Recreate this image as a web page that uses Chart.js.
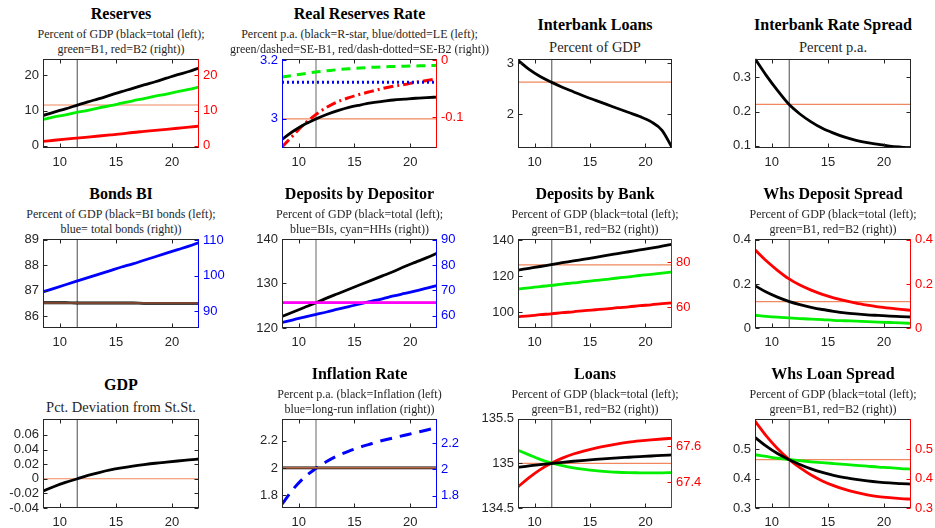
<!DOCTYPE html>
<html>
<head>
<meta charset="utf-8">
<script src="https://cdn.jsdelivr.net/npm/chart.js@4.4.0/dist/chart.umd.min.js"></script>
<style>
  body { margin: 0; background: #fff; width: 935px; height: 528px; overflow: hidden; position: relative; }
  .ttl { position: absolute; font: bold 16px "Liberation Serif", serif; color: #000; white-space: nowrap; transform: translate(-50%, -50%); }
  .sub { position: absolute; font: 12px "Liberation Serif", serif; color: #262626; white-space: nowrap; transform: translate(-50%, -50%); }
  .sub.big { font-size: 14.5px; }
  canvas { position: absolute; }
</style>
</head>
<body>
<script>
// ---- shared horizon ----
const xs = [8.5, 9.5, 10.5, 11.5, 12.5, 13.5, 14.5, 15.5, 16.5, 17.5, 18.5, 19.5, 20.5, 21.5, 22.4];
const xTicks = [10, 15, 20];
const xMin = 8.5, xMax = 22.4;
const shockX = 11.55;

// ---- Reserves ----
const reservesTotal = [8.6, 9.6, 10.5, 11.5, 12.5, 13.4, 14.4, 15.4, 16.3, 17.3, 18.2, 19.2, 20.2, 21.1, 22.1];
const reservesB1 = [7.5, 8.2, 8.8, 9.5, 10.1, 10.8, 11.4, 12.1, 12.8, 13.4, 14.1, 14.7, 15.4, 16.0, 16.7];
const reservesB2 = [1.3, 1.6, 1.9, 2.2, 2.5, 2.8, 3.1, 3.4, 3.8, 4.1, 4.4, 4.7, 5.0, 5.3, 5.6];
const reservesSS = 11.6;
const reservesTicksL = [0, 10, 20];
const reservesTicksR = [0, 10, 20];

// ---- Real reserves rate ----
const rrRstar = [2.930, 2.958, 2.981, 2.999, 3.015, 3.028, 3.039, 3.047, 3.054, 3.059, 3.064, 3.067, 3.070, 3.072, 3.074];
const rrLE = [3.124, 3.124, 3.124, 3.124, 3.124, 3.124, 3.124, 3.124, 3.124, 3.124, 3.124, 3.124, 3.124, 3.124, 3.124];
const rrB1 = [-0.030, -0.027, -0.024, -0.021, -0.019, -0.017, -0.0155, -0.014, -0.013, -0.012, -0.0115, -0.011, -0.0105, -0.010, -0.0095];
const rrB2 = [-0.152, -0.132, -0.112, -0.096, -0.083, -0.073, -0.066, -0.060, -0.055, -0.050, -0.046, -0.043, -0.039, -0.036, -0.033];
const rrSS = 3.0;
const rrTicksL = [3, 3.2];
const rrTicksR = [-0.1, 0];

// ---- Interbank loans ----
const ibLoans = [3.06, 2.88, 2.74, 2.63, 2.53, 2.44, 2.35, 2.27, 2.19, 2.11, 2.03, 1.95, 1.85, 1.68, 1.34];
const ibLoansSS = 2.63;
const ibLoansTicks = [2, 3];

// ---- Interbank rate spread ----
const ibSpread = [0.355, 0.306, 0.262, 0.222, 0.193, 0.170, 0.151, 0.137, 0.125, 0.116, 0.109, 0.104, 0.099, 0.096, 0.094];
const ibSpreadSS = 0.221;
const ibSpreadTicks = [0.1, 0.2, 0.3];

// ---- Bonds BI ----
const bondsBI = [86.52, 86.52, 86.52, 86.51, 86.51, 86.51, 86.51, 86.51, 86.51, 86.50, 86.50, 86.50, 86.50, 86.50, 86.50];
const bondsTotal = [95.4, 96.4, 97.4, 98.4, 99.4, 100.4, 101.4, 102.4, 103.3, 104.3, 105.3, 106.3, 107.3, 108.3, 109.3];
const bondsSS = 86.51;
const bondsTicksL = [86, 87, 88, 89];
const bondsTicksR = [90, 100, 110];

// ---- Deposits by depositor ----
const depTotal = [122.6, 123.6, 124.6, 125.6, 126.7, 127.7, 128.7, 129.7, 130.7, 131.7, 132.7, 133.8, 134.8, 135.8, 136.8];
const depBIs = [57.4, 58.4, 59.5, 60.5, 61.5, 62.6, 63.6, 64.7, 65.7, 66.7, 67.8, 68.8, 69.8, 70.9, 71.9];
const depHHs = [65.2, 65.2, 65.2, 65.2, 65.2, 65.2, 65.2, 65.2, 65.2, 65.2, 65.2, 65.2, 65.2, 65.2, 65.2];
const depSS = 125.8;
const depTicksL = [120, 130, 140];
const depTicksR = [60, 70, 80, 90];

// ---- Deposits by bank ----
const bankTotal = [123.3, 124.3, 125.3, 126.4, 127.4, 128.4, 129.4, 130.4, 131.5, 132.5, 133.5, 134.5, 135.5, 136.6, 137.6];
const bankB1 = [68.0, 68.5, 69.1, 69.6, 70.2, 70.7, 71.3, 71.8, 72.3, 72.9, 73.4, 74.0, 74.5, 75.1, 75.6];
const bankB2 = [55.7, 56.1, 56.6, 57.0, 57.5, 57.9, 58.4, 58.8, 59.2, 59.7, 60.1, 60.6, 61.0, 61.5, 61.9];
const bankSS = 126.2;
const bankTicksL = [100, 120, 140];
const bankTicksR = [60, 80];

// ---- Wholesale deposit spread ----
const wdTotal = [0.192, 0.163, 0.140, 0.121, 0.106, 0.094, 0.084, 0.076, 0.069, 0.064, 0.060, 0.057, 0.054, 0.052, 0.050];
const wdB1 = [0.058, 0.053, 0.049, 0.046, 0.043, 0.040, 0.038, 0.035, 0.033, 0.031, 0.029, 0.027, 0.025, 0.023, 0.021];
const wdB2 = [0.355, 0.305, 0.262, 0.224, 0.195, 0.172, 0.153, 0.137, 0.124, 0.113, 0.104, 0.096, 0.090, 0.085, 0.080];
const wdSS = 0.12;
const wdTicksL = [0, 0.2, 0.4];
const wdTicksR = [0, 0.2, 0.4];

// ---- GDP ----
const gdpDev = [-0.017, -0.0105, -0.005, -0.0003, 0.0045, 0.0085, 0.012, 0.0148, 0.0172, 0.0193, 0.0212, 0.0228, 0.0243, 0.0257, 0.027];
const gdpSS = 0;
const gdpTicks = [-0.04, -0.02, 0, 0.02, 0.04, 0.06];

// ---- Inflation ----
const inflation = [2.0, 2.0, 2.0, 2.0, 2.0, 2.0, 2.0, 2.0, 2.0, 2.0, 2.0, 2.0, 2.0, 2.0, 2.0];
const inflationLR = [1.736, 1.85, 1.94, 2.005, 2.06, 2.105, 2.14, 2.17, 2.195, 2.22, 2.24, 2.26, 2.28, 2.30, 2.32];
const inflationSS = 2.0;
const inflationTicksL = [1.8, 2, 2.2];
const inflationTicksR = [1.8, 2, 2.2];

// ---- Loans ----
const loansTotal = [134.955, 134.972, 134.986, 134.999, 135.012, 135.024, 135.035, 135.045, 135.054, 135.062, 135.069, 135.076, 135.083, 135.089, 135.095];
const loansB1 = [67.578, 67.552, 67.527, 67.507, 67.492, 67.480, 67.471, 67.464, 67.459, 67.455, 67.453, 67.452, 67.451, 67.452, 67.453];
const loansB2 = [67.373, 67.425, 67.470, 67.505, 67.534, 67.557, 67.575, 67.590, 67.603, 67.614, 67.623, 67.630, 67.636, 67.641, 67.645];
const loansSS = 135.0;
const loansTicksL = [134.5, 135, 135.5];
const loansTicksR = [67.4, 67.6];

// ---- Wholesale loan spread ----
const wlTotal = [0.540, 0.510, 0.485, 0.465, 0.448, 0.433, 0.421, 0.411, 0.403, 0.397, 0.392, 0.388, 0.385, 0.383, 0.381];
const wlB1 = [0.481, 0.475, 0.469, 0.465, 0.461, 0.457, 0.454, 0.451, 0.448, 0.445, 0.442, 0.439, 0.437, 0.434, 0.432];
const wlB2 = [0.595, 0.545, 0.502, 0.466, 0.437, 0.412, 0.392, 0.376, 0.363, 0.353, 0.345, 0.339, 0.335, 0.332, 0.330];
const wlSS = 0.464;
const wlTicks = [0.3, 0.4, 0.5];

// ---- styling ----
const INK = '#262626', BLACK = '#000000', RED = '#ff0000', GREEN = '#00f000', BLUE = '#0000ff', MAGENTA = '#ff00ff';
const SS_COLOR = '#f0875e';
const colLeft = [43, 282, 518, 755], colRight = [199, 437, 672, 911];
const rowTop = [57, 237, 417], rowBottom = [148, 328, 508];
const PAD_L = 45, PAD_R = 45, PAD_T = 10, PAD_B = 25;
const LINE_W = 2.8;

const panels = [
  { title: 'Reserves', sub: ['Percent of GDP (black=total (left);', 'green=B1, red=B2 (right))'], row: 0, col: 0,
    y: { min: -0.6, max: 24.7, ticks: reservesTicksL, color: INK }, y2: { min: -0.6, max: 24.7, ticks: reservesTicksR, color: RED },
    ss: { v: reservesSS, axis: 'y' },
    series: [ { d: reservesTotal, c: BLACK }, { d: reservesB1, c: GREEN }, { d: reservesB2, c: RED, axis: 'y2' } ] },
  { title: 'Real Reserves Rate', sub: ['Percent p.a. (black=R-star, blue/dotted=LE (left);', 'green/dashed=SE-B1, red/dash-dotted=SE-B2 (right))'], row: 0, col: 1,
    y: { min: 2.901, max: 3.204, ticks: rrTicksL, color: BLUE }, y2: { min: -0.154, max: 0.002, ticks: rrTicksR, color: RED },
    leftEdge: BLUE, ss: { v: rrSS, axis: 'y' },
    series: [ { d: rrRstar, c: BLACK }, { d: rrLE, c: BLUE, dash: [2, 3], w: 3 },
              { d: rrB1, c: GREEN, axis: 'y2', dash: [9, 6], w: 3 }, { d: rrB2, c: RED, axis: 'y2', dash: [10, 4, 2, 4], w: 3 } ] },
  { title: 'Interbank Loans', sub: ['Percent of GDP'], row: 0, col: 2,
    y: { min: 1.33, max: 3.09, ticks: ibLoansTicks, color: INK }, mirror: true,
    ss: { v: ibLoansSS, axis: 'y' }, series: [ { d: ibLoans, c: BLACK } ] },
  { title: 'Interbank Rate Spread', sub: ['Percent p.a.'], row: 0, col: 3,
    y: { min: 0.0934, max: 0.3546, ticks: ibSpreadTicks, color: INK }, mirror: true,
    ss: { v: ibSpreadSS, axis: 'y' }, series: [ { d: ibSpread, c: BLACK } ] },

  { title: 'Bonds BI', sub: ['Percent of GDP (black=BI bonds (left);', 'blue= total bonds (right))'], row: 1, col: 0,
    y: { min: 85.53, max: 89.03, ticks: bondsTicksL, color: INK }, y2: { min: 85.2, max: 110.36, ticks: bondsTicksR, color: BLUE },
    ss: { v: bondsSS, axis: 'y', top: true },
    series: [ { d: bondsBI, c: BLACK }, { d: bondsTotal, c: BLUE, axis: 'y2' } ] },
  { title: 'Deposits by Depositor', sub: ['Percent of GDP (black=total (left);', 'blue=BIs, cyan=HHs (right))'], row: 1, col: 1,
    y: { min: 120, max: 140.03, ticks: depTicksL, color: INK }, y2: { min: 55.2, max: 90.3, ticks: depTicksR, color: BLUE },
    ss: { v: depSS, axis: 'y' },
    series: [ { d: depHHs, c: MAGENTA, axis: 'y2' }, { d: depTotal, c: BLACK }, { d: depBIs, c: BLUE, axis: 'y2' } ] },
  { title: 'Deposits by Bank', sub: ['Percent of GDP (black=total (left);', 'green=B1, red=B2 (right))'], row: 1, col: 2,
    y: { min: 91.1, max: 140.7, ticks: bankTicksL, color: INK }, y2: { min: 50.7, max: 90.3, ticks: bankTicksR, color: RED },
    ss: { v: bankSS, axis: 'y' },
    series: [ { d: bankTotal, c: BLACK }, { d: bankB1, c: GREEN, axis: 'y2' }, { d: bankB2, c: RED, axis: 'y2' } ] },
  { title: 'Whs Deposit Spread', sub: ['Percent of GDP (black=total (left);', 'green=B1, red=B2 (right))'], row: 1, col: 3,
    y: { min: 0, max: 0.405, ticks: wdTicksL, color: INK }, y2: { min: 0, max: 0.405, ticks: wdTicksR, color: RED },
    ss: { v: wdSS, axis: 'y' },
    series: [ { d: wdTotal, c: BLACK }, { d: wdB1, c: GREEN, axis: 'y2' }, { d: wdB2, c: RED, axis: 'y2' } ] },

  { title: 'GDP', sub: ['Pct. Deviation from St.St.'], row: 2, col: 0,
    y: { min: -0.04, max: 0.082, ticks: gdpTicks, color: INK }, mirror: true,
    ss: { v: gdpSS, axis: 'y' }, series: [ { d: gdpDev, c: BLACK } ] },
  { title: 'Inflation Rate', sub: ['Percent p.a. (black=Inflation (left)', 'blue=long-run inflation (right))'], row: 2, col: 1,
    y: { min: 1.704, max: 2.363, ticks: inflationTicksL, color: INK }, y2: { min: 1.707, max: 2.385, ticks: inflationTicksR, color: BLUE },
    ss: { v: inflationSS, axis: 'y', top: true },
    series: [ { d: inflation, c: BLACK }, { d: inflationLR, c: BLUE, axis: 'y2', dash: [12, 8], w: 3 } ] },
  { title: 'Loans', sub: ['Percent of GDP (black=total (left);', 'green=B1, red=B2 (right))'], row: 2, col: 2,
    y: { min: 134.5, max: 135.5, ticks: loansTicksL, color: INK }, y2: { min: 67.255, max: 67.754, ticks: loansTicksR, color: RED },
    ss: { v: loansSS, axis: 'y' },
    series: [ { d: loansTotal, c: BLACK }, { d: loansB1, c: GREEN, axis: 'y2' }, { d: loansB2, c: RED, axis: 'y2' } ] },
  { title: 'Whs Loan Spread', sub: ['Percent of GDP (black=total (left);', 'green=B1, red=B2 (right))'], row: 2, col: 3,
    y: { min: 0.3, max: 0.603, ticks: wlTicks, color: INK }, y2: { min: 0.3, max: 0.603, ticks: wlTicks, color: RED },
    ss: { v: wlSS, axis: 'y' },
    series: [ { d: wlTotal, c: BLACK }, { d: wlB1, c: GREEN, axis: 'y2' }, { d: wlB2, c: RED, axis: 'y2' } ] }
];

// Box, inward tick marks and coloured y-axis lines, MATLAB style
const framePlugin = {
  id: 'frame',
  afterDatasetsDraw(chart, args, opts) {
    const { ctx, chartArea: a, scales } = chart;
    const L = Math.round(a.left) + 0.5, R = Math.round(a.right) - 0.5;
    const T = Math.round(a.top) + 0.5, B = Math.round(a.bottom) - 0.5;
    const tl = 4;
    ctx.save();
    ctx.lineWidth = 1;
    ctx.strokeStyle = INK;
    ctx.beginPath();
    ctx.moveTo(L, T); ctx.lineTo(R, T);
    ctx.moveTo(L, B); ctx.lineTo(R, B);
    for (const t of scales.x.ticks) {
      const p = Math.round(scales.x.getPixelForValue(t.value)) + 0.5;
      ctx.moveTo(p, B); ctx.lineTo(p, B - tl);
      ctx.moveTo(p, T); ctx.lineTo(p, T + tl);
    }
    ctx.stroke();
    const side = (x, dir, scale, color) => {
      ctx.strokeStyle = color;
      ctx.beginPath();
      ctx.moveTo(x, T - 0.5); ctx.lineTo(x, B + 0.5);
      for (const t of scale.ticks) {
        const p = Math.round(scale.getPixelForValue(t.value)) + 0.5;
        ctx.moveTo(x, p); ctx.lineTo(x + dir * tl, p);
      }
      ctx.stroke();
    };
    side(L, 1, scales.y, opts.left);
    side(R, -1, opts.mirror ? scales.y : scales.y2, opts.right);
    ctx.restore();
  }
};

const tickFont = { family: '"Liberation Sans", Arial, sans-serif', size: 13 };

function yScale(spec, position, show) {
  return {
    type: 'linear', position, min: spec.min, max: spec.max,
    afterBuildTicks: s => { s.ticks = spec.ticks.map(v => ({ value: v })); },
    afterFit: s => { s.width = position === 'left' ? PAD_L : PAD_R; },
    grid: { display: false, drawTicks: false }, border: { display: false },
    ticks: { display: show, color: spec.color, font: tickFont, padding: 4, autoSkip: false, callback: v => String(v) }
  };
}

panels.forEach(p => {
  const L = colLeft[p.col], R = colRight[p.col], T = rowTop[p.row], Bt = rowBottom[p.row];
  const W = R - L, H = Bt - T;
  const cx = (L + R) / 2;

  // heading text
  const twoLines = p.sub.length === 2;
  const lines = twoLines ? [T - 43, T - 23, T - 8] : [T - 32, T - 10];
  const tEl = document.createElement('div');
  tEl.className = 'ttl'; tEl.textContent = p.title;
  tEl.style.left = cx + 'px'; tEl.style.top = lines[0] + 'px';
  document.body.appendChild(tEl);
  p.sub.forEach((s, i) => {
    const e = document.createElement('div');
    e.className = twoLines ? 'sub' : 'sub big'; e.textContent = s;
    e.style.left = cx + 'px'; e.style.top = lines[i + 1] + 'px';
    document.body.appendChild(e);
  });

  const cv = document.createElement('canvas');
  const cw = W + PAD_L + PAD_R, ch = H + PAD_T + PAD_B;
  cv.width = cw; cv.height = ch;
  cv.style.left = (L - PAD_L) + 'px'; cv.style.top = (T - PAD_T) + 'px';
  cv.style.width = cw + 'px'; cv.style.height = ch + 'px';
  document.body.appendChild(cv);

  const y2spec = p.y2 || p.y;
  const datasets = [];
  p.series.forEach((s, i) => {
    datasets.push({
      data: xs.map((x, k) => ({ x, y: s.d[k] })),
      yAxisID: s.axis || 'y',
      borderColor: s.c, borderWidth: s.w || LINE_W, borderDash: s.dash || [],
      cubicInterpolationMode: 'monotone', pointRadius: 0, order: 10 + i
    });
  });
  datasets.push({
    data: [{ x: xMin, y: p.ss.v }, { x: xMax, y: p.ss.v }], yAxisID: p.ss.axis,
    borderColor: SS_COLOR, borderWidth: 1.2, pointRadius: 0, order: p.ss.top ? 0 : 30
  });
  const vSpec = p.y;
  datasets.push({
    data: [{ x: shockX, y: vSpec.min }, { x: shockX, y: vSpec.max }], yAxisID: 'y',
    borderColor: p.col === 1 ? '#9a9a9a' : '#4a4a4a', borderWidth: p.col === 1 ? 1.5 : 1, pointRadius: 0, order: 40
  });

  new Chart(cv, {
    type: 'line',
    data: { datasets },
    plugins: [framePlugin],
    options: {
      responsive: false, animation: false, devicePixelRatio: 1,
      layout: { padding: { top: PAD_T, left: 0, right: 0, bottom: 0 }, autoPadding: false },
      plugins: {
        legend: { display: false }, tooltip: { enabled: false },
        frame: { left: p.leftEdge || INK, right: p.y2 ? p.y2.color : INK, mirror: !p.y2 }
      },
      scales: {
        x: {
          type: 'linear', min: xMin, max: xMax,
          afterBuildTicks: s => { s.ticks = xTicks.map(v => ({ value: v })); },
          afterFit: s => { s.height = PAD_B; },
          grid: { display: false, drawTicks: false }, border: { display: false },
          ticks: { color: INK, font: tickFont, padding: 7, maxRotation: 0, autoSkip: false, callback: v => String(v) }
        },
        y: yScale(p.y, 'left', true),
        y2: yScale(y2spec, 'right', !!p.y2)
      }
    }
  });
});
</script>
</body>
</html>
